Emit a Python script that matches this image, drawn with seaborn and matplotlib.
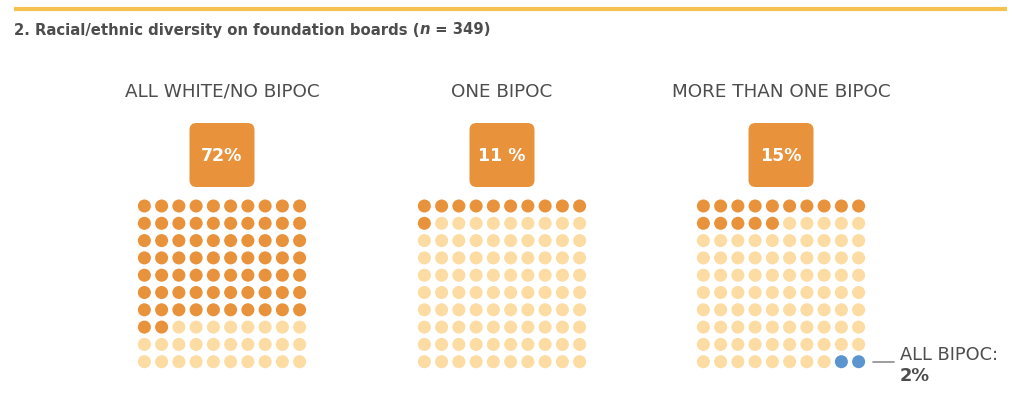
import numpy as np
import pandas as pd
import matplotlib
matplotlib.use("Agg")
import matplotlib.pyplot as plt
import seaborn as sns
from matplotlib.patches import FancyBboxPatch

sns.set_theme(style="white")
plt.rcParams['font.family'] = ['DejaVu Sans']

# data
title = "2. Racial/ethnic diversity on foundation boards ("
categories = ["ALL WHITE/NO BIPOC", "ONE BIPOC", "MORE THAN ONE BIPOC"]
badge_labels = ["72%", "11 %", "15%"]
dark_counts = [72, 11, 15]
blue_counts = [0, 0, 2]
note_label = "ALL BIPOC:"
note_value = "2%"

# colours
DARK = "#E8923C"
LIGHT = "#FCDCA2"
BLUE = "#5B95CF"
GOLD = "#F5C24F"
TEXT = "#4D4D4D"

panel_x = [222, 502, 781]
step_x, step_y = 17.25, 17.3
top_row = 206

# build dot table
rows = []
for p, (name, nd, nb) in enumerate(zip(categories, dark_counts, blue_counts)):
    for i in range(100):
        r, c = divmod(i, 10)
        if i < nd:
            kind = "dark"
        elif i >= 100 - nb:
            kind = "blue"
        else:
            kind = "light"
        rows.append({"panel": name, "x": panel_x[p] + (c - 4.5) * step_x,
                     "y": top_row + r * step_y, "kind": kind})
dots = pd.DataFrame(rows)

fig = plt.figure(figsize=(10.24, 4.04), dpi=100)
ax = fig.add_axes([0, 0, 1, 1])
ax.set_xlim(0, 1024)
ax.set_ylim(404, 0)
ax.axis("off")

# top rule and title (title is built in three pieces so "n" can be italic)
ax.plot([14, 1007], [9, 9], color=GOLD, lw=3, solid_capstyle="butt")
tsize = 10.75
t = ax.text(14, 30, title, fontsize=tsize, fontweight="bold", color=TEXT,
            va="center", ha="left")
fig.canvas.draw()
x_end = t.get_window_extent().x1
t2 = ax.annotate("n", xy=(x_end, 404 - 30), xycoords="figure pixels",
                 fontsize=tsize, fontweight="bold", fontstyle="italic",
                 color=TEXT, va="center", ha="left")
fig.canvas.draw()
x_end2 = t2.get_window_extent().x1
ax.annotate(" = 349)", xy=(x_end2, 404 - 30), xycoords="figure pixels",
            fontsize=tsize, fontweight="bold", color=TEXT, va="center", ha="left")

sns.scatterplot(data=dots, x="x", y="y", hue="kind",
                palette={"dark": DARK, "light": LIGHT, "blue": BLUE},
                s=88, linewidth=0, legend=False, ax=ax)

for cx, name, lab in zip(panel_x, categories, badge_labels):
    ax.text(cx, 92, name, fontsize=13.2, color=TEXT, ha="center", va="center")
    box = FancyBboxPatch((cx - 32.5 + 7, 123 + 7), 65 - 14, 64 - 14,
                         boxstyle="round,pad=7", fc=DARK, ec="none")
    ax.add_patch(box)
    ax.text(cx, 156, lab, fontsize=12.5, fontweight="bold", color="white",
            ha="center", va="center")

# annotation for all-BIPOC boards
ax.plot([873, 894], [362, 362], color="#8C8C8C", lw=1.2)
ax.text(900, 355, note_label, fontsize=12.8, color=TEXT, ha="left", va="center")
ax.text(900, 376, note_value, fontsize=12.8, fontweight="bold", color=TEXT,
        ha="left", va="center")

fig.savefig("out.png", dpi=100)
